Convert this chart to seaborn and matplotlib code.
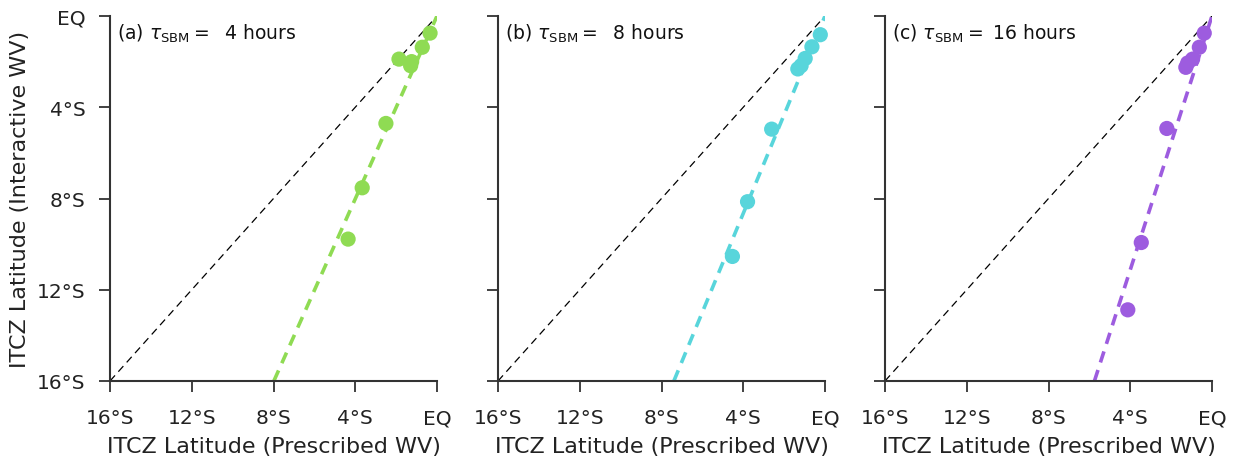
import numpy as np
import pandas as pd
import matplotlib
matplotlib.use("Agg")
import matplotlib.pyplot as plt
import seaborn as sns

# ---- data (degrees latitude, negative = south) ----
prescribed_a = [-0.34, -0.72, -1.86, -1.24, -1.29, -2.50, -3.66, -4.35]
interactive_a = [-0.75, -1.37, -1.89, -2.00, -2.18, -4.71, -7.53, -9.78]

prescribed_b = [-0.23, -0.64, -0.97, -1.17, -1.33, -2.61, -3.79, -4.53]
interactive_b = [-0.82, -1.35, -1.86, -2.18, -2.32, -4.96, -8.14, -10.54]

prescribed_c = [-0.38, -0.62, -0.95, -1.19, -1.28, -2.21, -3.46, -4.12]
interactive_c = [-0.75, -1.37, -1.89, -2.06, -2.25, -4.93, -9.93, -12.88]

panel_labels = ["(a)", "(b)", "(c)"]
tau_hours = ["4", "8", "16"]
colors = ["#8fdb53", "#58d5db", "#9d5cdf"]

tick_values = [-16, -12, -8, -4, 0]
tick_labels = ["16°S", "12°S", "8°S", "4°S", "EQ"]

sns.set_theme(style="ticks")
plt.rcParams["font.family"] = ["DejaVu Sans"]
plt.rcParams["mathtext.fontset"] = "dejavusans"

fig = plt.figure(figsize=(12.41, 4.64), dpi=100)
lefts = [110 / 1241, 498 / 1241, 885 / 1241]
width = 327 / 1241
bottom = 1 - 382 / 464
height = 365 / 464

series = [(prescribed_a, interactive_a), (prescribed_b, interactive_b), (prescribed_c, interactive_c)]
spine_color = "#333333"

for i, ((xs, ys), lab, tau, col) in enumerate(zip(series, panel_labels, tau_hours, colors)):
    ax = fig.add_axes([lefts[i], bottom, width, height])
    df = pd.DataFrame({"x": xs, "y": ys})
    # 1:1 line
    sns.lineplot(x=[-16, 0], y=[-16, 0], ax=ax, color="black", lw=0.9,
                 linestyle=(0, (6, 4)), zorder=1)
    # least-squares fit through the origin
    xa = np.array(xs); ya = np.array(ys)
    slope = (xa * ya).sum() / (xa * xa).sum()
    yy = np.array([-16.0, 0.0])
    sns.lineplot(x=yy / slope, y=yy, ax=ax, color=col, lw=2.6,
                 linestyle=(0, (3.2, 2.2)), zorder=2)
    sns.scatterplot(data=df, x="x", y="y", ax=ax, color=col, s=120,
                    edgecolor="none", zorder=3, clip_on=False)
    ax.set_xlim(-16, 0)
    ax.set_ylim(-16, 0)
    ax.set_xticks(tick_values)
    ax.set_xticklabels(tick_labels)
    ax.set_yticks(tick_values)
    if i == 0:
        ax.set_yticklabels(tick_labels)
        ax.set_ylabel("ITCZ Latitude (Interactive WV)", fontsize=16, color="#222222", labelpad=5)
    else:
        ax.set_yticklabels([])
        ax.set_ylabel("")
    sns.despine(ax=ax)
    for s in ["left", "bottom"]:
        ax.spines[s].set_linewidth(1.5)
        ax.spines[s].set_color(spine_color)
    ax.tick_params(axis="both", length=8, width=1.3, color=spine_color,
                   labelsize=14.5, labelcolor="#222222")
    ax.tick_params(axis="x", pad=22.5)
    ax.tick_params(axis="y", pad=9.5)
    for tk in ax.xaxis.get_major_ticks():
        tk.label1.set_verticalalignment("baseline")
    ax.set_xlabel("ITCZ Latitude (Prescribed WV)", fontsize=16, color="#222222")
    ax.xaxis.set_label_coords(0.5, -0.195)
    ax.xaxis.label.set_verticalalignment("baseline")
    ax.text(0.02, 0.985, lab + r" $\tau_{\mathrm{SBM}}=$ " + (" " if len(tau) == 1 else "") + tau + " hours",
            transform=ax.transAxes, ha="left", va="top", fontsize=13.5, color="#111111")

fig.savefig("out.png", dpi=100)
